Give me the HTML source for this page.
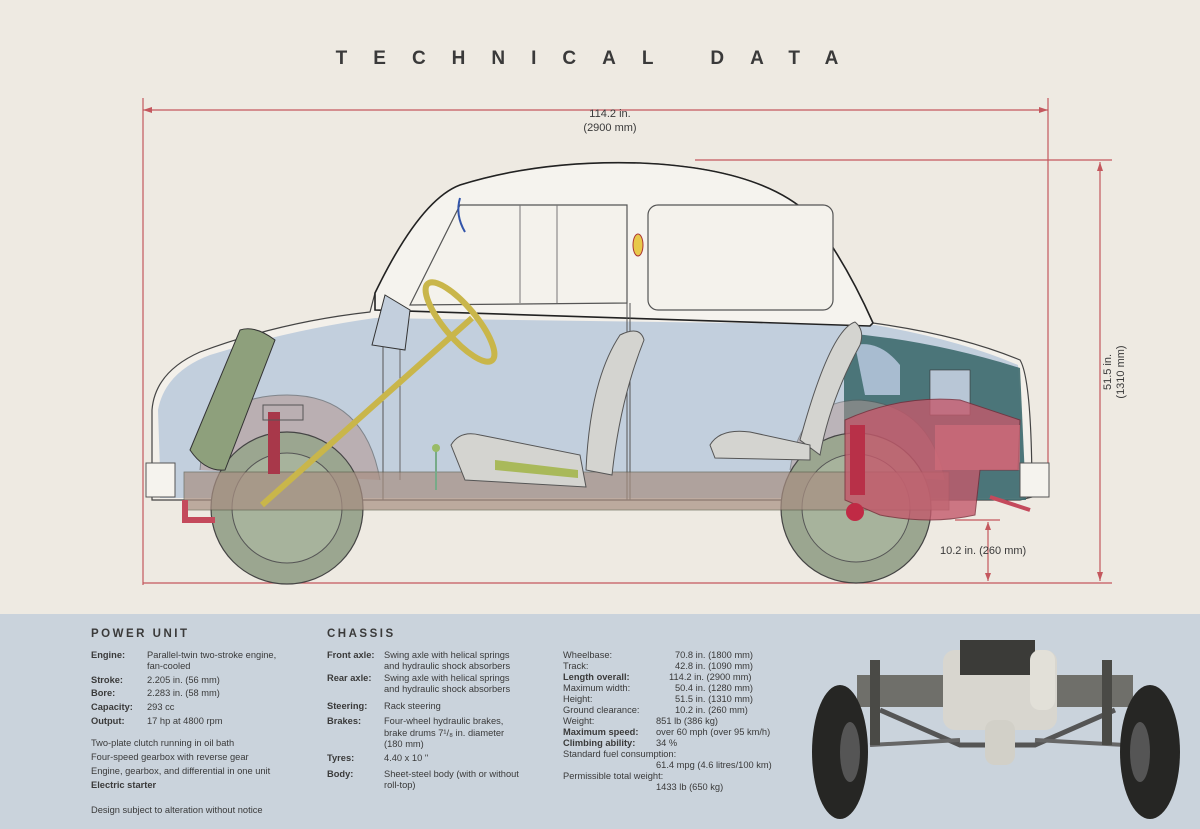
<!DOCTYPE html>
<html><head><meta charset="utf-8"><style>
body{margin:0;width:1200px;height:829px;overflow:hidden;background:#eeeae2;font-family:"Liberation Sans",sans-serif;}
svg{position:absolute;left:0;top:0}
.t{font-family:"Liberation Sans",sans-serif;fill:#3a3a3a}
</style></head><body>
<svg width="1200" height="829" viewBox="0 0 1200 829">
<rect x="0" y="0" width="1200" height="614" fill="#eeeae2"/>
<rect x="0" y="614" width="1200" height="215" fill="#cad3dc"/>
<text x="600" y="64" text-anchor="middle" font-size="19" font-weight="bold" letter-spacing="26" class="t" fill="#222">TECHNICAL DATA</text>
<!-- dimension lines -->
<g stroke="#c4585e" stroke-width="1.2" fill="none">
<line x1="143" y1="110" x2="1048" y2="110"/>
<line x1="143" y1="98" x2="143" y2="585"/>
<line x1="1048" y1="98" x2="1048" y2="470"/>
<line x1="143" y1="583" x2="1112" y2="583"/>
<line x1="695" y1="160" x2="1112" y2="160"/>
<line x1="1100" y1="162" x2="1100" y2="581"/>
<line x1="955" y1="520" x2="1000" y2="520"/>
<line x1="988" y1="522" x2="988" y2="581"/>
</g>
<g fill="#c4585e">
<polygon points="143,110 152,107 152,113"/><polygon points="1048,110 1039,107 1039,113"/>
<polygon points="1100,162 1097,171 1103,171"/><polygon points="1100,581 1097,572 1103,572"/>
<polygon points="988,522 985,530 991,530"/><polygon points="988,581 985,573 991,573"/>
</g>
<text x="610" y="117" text-anchor="middle" font-size="11" class="t">114.2 in.</text>
<text x="610" y="131" text-anchor="middle" font-size="11" class="t">(2900 mm)</text>
<text transform="translate(1111,372) rotate(-90)" text-anchor="middle" font-size="11" class="t">51.5 in.</text>
<text transform="translate(1124,372) rotate(-90)" text-anchor="middle" font-size="11" class="t">(1310 mm)</text>
<text x="940" y="554" font-size="11" class="t">10.2 in. (260 mm)</text>
<!-- car body -->
<path d="M152,463 L152,410 Q155,372 200,352 Q280,322 370,312 L375,293 Q420,200 460,185 Q540,160 640,163 Q760,168 810,215 Q845,260 873,323 Q960,335 1020,360 Q1032,380 1032,497 L1020,500 L152,500 Z" fill="#f3f0ea" stroke="#444" stroke-width="1.2"/>
<path d="M160,470 L158,410 Q165,372 210,355 Q290,330 375,318 L875,325 Q960,340 1018,365 L1026,498 L160,498 Z" fill="#bccbdc" opacity="0.9"/>
<path d="M844,333 Q930,340 1020,368 L1026,500 L844,500 Z" fill="#3e6a6e" opacity="0.9"/>
<path d="M855,345 Q880,340 900,365 L900,395 L865,395 Z" fill="#a8bcd0"/>
<rect x="930" y="370" width="40" height="45" fill="#b8c6d6" stroke="#333" stroke-width="0.6"/>
<!-- windows -->
<path d="M375,293 Q420,200 460,185 Q540,160 640,163 Q760,168 810,215 Q845,260 873,323 L870,326 L375,310 Z" fill="#f5f3ee" stroke="#222" stroke-width="1.6"/>
<path d="M460,205 L627,205 L627,303 L410,305 Z" fill="#f4f2ec" stroke="#555" stroke-width="1.2"/>
<rect x="648" y="205" width="185" height="105" rx="10" fill="#f4f2ec" stroke="#555" stroke-width="1.2"/>
<line x1="520" y1="205" x2="520" y2="303" stroke="#777"/><line x1="557" y1="205" x2="557" y2="303" stroke="#777"/>
<ellipse cx="638" cy="245" rx="5" ry="11" fill="#e8c84a" stroke="#a33"/>
<line x1="383" y1="330" x2="383" y2="500" stroke="#555"/>
<line x1="627" y1="303" x2="627" y2="500" stroke="#555"/>
<line x1="630" y1="303" x2="630" y2="500" stroke="#555"/>
<line x1="400" y1="330" x2="400" y2="480" stroke="#666"/>
<!-- wheel arches -->
<path d="M200,470 Q205,395 287,395 Q365,395 380,480" fill="#b59a96" opacity="0.6" stroke="#555"/>
<path d="M790,470 Q800,400 860,400 Q930,405 945,480" fill="#b59a96" opacity="0.5" stroke="#555"/>
<!-- wheels -->
<circle cx="287" cy="508" r="76" fill="#9ba690" stroke="#444" stroke-width="1.2"/>
<circle cx="287" cy="508" r="55" fill="#a7b39c" stroke="#555"/>
<circle cx="856" cy="508" r="75" fill="#9ba690" stroke="#444" stroke-width="1.2"/>
<circle cx="856" cy="508" r="54" fill="#a7b39c" stroke="#555"/>
<!-- chassis band -->
<rect x="184" y="472" width="765" height="38" fill="#a88f82" opacity="0.7" stroke="#554" stroke-width="0.8"/>
<!-- spare wheel -->
<path d="M190,450 L240,330 Q255,325 275,340 L225,470 Q205,472 190,450Z" fill="#8ea07c" stroke="#333"/>
<!-- shock front -->
<rect x="268" y="412" width="12" height="62" fill="#a8384a"/>
<rect x="263" y="405" width="40" height="15" fill="none" stroke="#555"/>
<!-- engine red -->
<path d="M845,420 Q900,395 960,400 L1020,420 L1018,470 L980,470 L975,515 Q930,525 880,515 L845,500Z" fill="#c45a6c" opacity="0.8" stroke="#7a2a38"/>
<rect x="935" y="425" width="85" height="45" fill="#d06c7a" opacity="0.7"/>
<rect x="850" y="425" width="15" height="70" fill="#b83048"/>
<circle cx="855" cy="512" r="9" fill="#c02a45"/>
<!-- seats -->
<path d="M586,470 Q590,380 620,335 Q640,325 644,340 Q620,400 612,475Z" fill="#d4d4d0" stroke="#555"/>
<path d="M451,445 Q460,430 480,435 L580,455 L586,487 L465,480 Z" fill="#d4d4d0" stroke="#555"/>
<path d="M495,460 L578,470 L578,478 L495,470Z" fill="#a9b95a"/>
<path d="M800,440 Q830,330 855,322 Q865,330 860,345 Q830,400 820,455Z" fill="#d4d4d0" stroke="#555"/>
<path d="M710,445 Q720,428 750,432 L810,445 L810,460 L715,458Z" fill="#d4d4d0" stroke="#555"/>
<!-- steering -->
<line x1="472" y1="318" x2="262" y2="505" stroke="#c9b64a" stroke-width="6"/>
<ellipse cx="460" cy="322" rx="16" ry="50" transform="rotate(-40 460 322)" fill="none" stroke="#c9b64a" stroke-width="6"/>
<line x1="436" y1="450" x2="436" y2="490" stroke="#7a8" stroke-width="2"/><circle cx="436" cy="448" r="4" fill="#9b6"/>
<!-- mirror & hook -->
<path d="M372,345 L385,295 L410,310 L405,350Z" fill="#c3cfdd" stroke="#333"/>
<path d="M460,198 Q455,215 465,232" fill="none" stroke="#35a" stroke-width="2"/>
<!-- bumpers -->
<path d="M146,463 L175,463 L175,497 L146,497Z" fill="#f5f3ee" stroke="#555"/>
<path d="M1020,463 L1049,463 L1049,497 L1020,497Z" fill="#f5f3ee" stroke="#555"/>
<path d="M185,500 L185,520 L215,520" fill="none" stroke="#c44a5c" stroke-width="6"/>
<path d="M990,497 L1030,510" stroke="#c44a5c" stroke-width="4"/>
<!-- chassis photo -->
<rect x="857" y="675" width="276" height="32" fill="#6f6f6a"/>
<path d="M880,710 L960,745 L1035,745 L1115,710" fill="none" stroke="#555" stroke-width="5"/>
<line x1="870" y1="745" x2="960" y2="740" stroke="#666" stroke-width="4"/>
<line x1="1035" y1="740" x2="1125" y2="745" stroke="#666" stroke-width="4"/>
<rect x="943" y="650" width="114" height="80" rx="12" fill="#d8d6cf"/>
<rect x="960" y="640" width="75" height="35" fill="#3b3b38"/>
<rect x="985" y="720" width="30" height="45" rx="10" fill="#d2d0c8"/>
<rect x="1030" y="650" width="25" height="60" rx="10" fill="#e2e0d8"/>
<rect x="870" y="660" width="10" height="85" fill="#4a4a46"/>
<rect x="1102" y="660" width="10" height="85" fill="#4a4a46"/>
<ellipse cx="840" cy="752" rx="28" ry="67" fill="#262624"/>
<ellipse cx="1150" cy="752" rx="30" ry="67" fill="#262624"/>
<ellipse cx="850" cy="752" rx="10" ry="30" fill="#555"/>
<ellipse cx="1140" cy="752" rx="10" ry="30" fill="#555"/>
<!-- text -->
<g font-size="9.3" class="t">
<text x="91" y="637" font-size="11.5" font-weight="bold" letter-spacing="2.5">POWER UNIT</text>
<g font-weight="bold"><text x="91" y="658">Engine:</text><text x="91" y="683">Stroke:</text><text x="91" y="696">Bore:</text><text x="91" y="710">Capacity:</text><text x="91" y="724">Output:</text></g>
<text x="147" y="658">Parallel-twin two-stroke engine,</text>
<text x="147" y="669">fan-cooled</text>
<text x="147" y="683">2.205 in. (56 mm)</text>
<text x="147" y="696">2.283 in. (58 mm)</text>
<text x="147" y="710">293 cc</text>
<text x="147" y="724">17 hp at 4800 rpm</text>
<text x="91" y="746">Two-plate clutch running in oil bath</text>
<text x="91" y="760">Four-speed gearbox with reverse gear</text>
<text x="91" y="774">Engine, gearbox, and differential in one unit</text>
<text x="91" y="788" font-weight="bold">Electric starter</text>
<text x="91" y="813">Design subject to alteration without notice</text>
<text x="327" y="637" font-size="11.5" font-weight="bold" letter-spacing="2.5">CHASSIS</text>
<g font-weight="bold"><text x="327" y="658">Front axle:</text><text x="327" y="681">Rear axle:</text><text x="327" y="709">Steering:</text><text x="327" y="724">Brakes:</text><text x="327" y="761">Tyres:</text><text x="327" y="777">Body:</text></g>
<text x="384" y="658">Swing axle with helical springs</text>
<text x="384" y="669">and hydraulic shock absorbers</text>
<text x="384" y="681">Swing axle with helical springs</text>
<text x="384" y="692">and hydraulic shock absorbers</text>
<text x="384" y="709">Rack steering</text>
<text x="384" y="724">Four-wheel hydraulic brakes,</text>
<text x="384" y="736">brake drums 7¹/₈ in. diameter</text>
<text x="384" y="747">(180 mm)</text>
<text x="384" y="761">4.40 x 10 "</text>
<text x="384" y="777">Sheet-steel body (with or without</text>
<text x="384" y="788">roll-top)</text>
<text x="563" y="658">Wheelbase:</text><text x="675" y="658">70.8 in. (1800 mm)</text>
<text x="563" y="669">Track:</text><text x="675" y="669">42.8 in. (1090 mm)</text>
<text x="563" y="680" font-weight="bold">Length overall:</text><text x="669" y="680">114.2 in. (2900 mm)</text>
<text x="563" y="691">Maximum width:</text><text x="675" y="691">50.4 in. (1280 mm)</text>
<text x="563" y="702">Height:</text><text x="675" y="702">51.5 in. (1310 mm)</text>
<text x="563" y="713">Ground clearance:</text><text x="675" y="713">10.2 in. (260 mm)</text>
<text x="563" y="724">Weight:</text><text x="656" y="724">851 lb (386 kg)</text>
<text x="563" y="735" font-weight="bold">Maximum speed:</text><text x="656" y="735">over 60 mph (over 95 km/h)</text>
<text x="563" y="746" font-weight="bold">Climbing ability:</text><text x="656" y="746">34 %</text>
<text x="563" y="757">Standard fuel consumption:</text>
<text x="656" y="768">61.4 mpg (4.6 litres/100 km)</text>
<text x="563" y="779">Permissible total weight:</text>
<text x="656" y="790">1433 lb (650 kg)</text>
</g>
</svg>
</body></html>
